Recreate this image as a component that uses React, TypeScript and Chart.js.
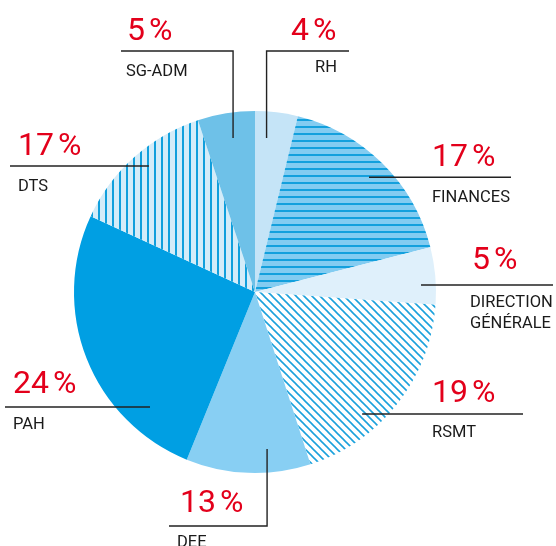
import React, { useEffect, useRef } from "react";
import { Chart, registerables } from "chart.js";

Chart.register(...registerables);

// ---- data (clockwise from 12 o'clock) ----
const CATEGORIES = ["RH", "FINANCES", "DIRECTION GÉNÉRALE", "RSMT", "DEE", "PAH", "DTS", "SG-ADM"];
// slice shares as drawn in the picture (percent)
const SHARES = [3.8, 17.2, 5.1, 18.9, 11.1, 25.7, 13.0, 5.1];
// percentage labels as printed
const PCT_VALUES = ["4", "17", "5", "19", "13", "24", "17", "5"];
const NAME_LINES = [["RH"], ["FINANCES"], ["DIRECTION", "GÉNÉRALE"], ["RSMT"], ["DEE"], ["PAH"], ["DTS"], ["SG-ADM"]];

// ---- styles ----
type Fill =
  | { kind: "solid"; color: string }
  | { kind: "h" | "v" | "d"; bg: string; fg: string; size: number; lw: number };

const FILLS: Fill[] = [
  { kind: "solid", color: "#c5e4f7" },
  { kind: "h", bg: "#83ccf1", fg: "#13a0dd", size: 7, lw: 2 },
  { kind: "solid", color: "#dff0fb" },
  { kind: "d", bg: "#ffffff", fg: "#1ba1dc", size: 8, lw: 1.6 },
  { kind: "solid", color: "#88cff3" },
  { kind: "solid", color: "#009fe3" },
  { kind: "v", bg: "#d3ecf9", fg: "#109fdc", size: 7, lw: 2 },
  { kind: "solid", color: "#6ec1e8" },
];

// ---- annotation layout ----
type Layout = {
  angle: number; rf: number;
  mode: "h" | "v";
  lineY?: number; lineEnd: number;
  pctX: number; pctY: number;
  nameX: number; nameY: number;
};
const LAYOUT: Layout[] = [
  { angle: 4.3, rf: 0.853, mode: "v", lineY: 51, lineEnd: 349, pctX: 291, pctY: 40, nameX: 315, nameY: 72 },
  { angle: 44.8, rf: 0.894, mode: "h", lineEnd: 511, pctX: 432, pctY: 166, nameX: 432, nameY: 202 },
  { angle: 87.6, rf: 0.918, mode: "h", lineEnd: 553, pctX: 472, pctY: 269, nameX: 470, nameY: 307 },
  { angle: 138.7, rf: 0.897, mode: "h", lineEnd: 523, pctX: 432, pctY: 402, nameX: 432, nameY: 437 },
  { angle: 175.6, rf: 0.87, mode: "v", lineY: 526, lineEnd: 169, pctX: 180, pctY: 512, nameX: 177, nameY: 547 },
  { angle: 222.4, rf: 0.86, mode: "h", lineEnd: 5, pctX: 13, pctY: 393, nameX: 13, nameY: 429 },
  { angle: 319.9, rf: 0.91, mode: "h", lineEnd: 10, pctX: 18, pctY: 155, nameX: 18, nameY: 191 },
  { angle: 351.9, rf: 0.86, mode: "v", lineY: 51, lineEnd: 121, pctX: 127, pctY: 40, nameX: 126, nameY: 76 },
];

const RED = "#e3001b";
const INK = "#1a1a1a";
const FONT = "Roboto, 'Liberation Sans', sans-serif";
const PCT_GAP = 4;

function makeFill(f: Fill): string | CanvasPattern {
  if (f.kind === "solid") return f.color;
  const c = document.createElement("canvas");
  c.width = f.size;
  c.height = f.size;
  const g = c.getContext("2d")!;
  g.fillStyle = f.bg;
  g.fillRect(0, 0, f.size, f.size);
  g.fillStyle = f.fg;
  g.strokeStyle = f.fg;
  if (f.kind === "h") g.fillRect(0, 0, f.size, f.lw);
  else if (f.kind === "v") g.fillRect(0, 0, f.lw, f.size);
  else {
    const s = f.size;
    g.lineWidth = f.lw;
    for (const k of [-s, 0, s]) {
      g.beginPath();
      g.moveTo(k - 1, -1);
      g.lineTo(k + s + 1, s + 1);
      g.stroke();
    }
  }
  return g.createPattern(c, "repeat")!;
}

const annotations = {
  id: "annotations",
  afterDraw(chart: any) {
    const ctx: CanvasRenderingContext2D = chart.ctx;
    const meta = chart.getDatasetMeta(0);
    ctx.save();
    meta.data.forEach((arc: any, i: number) => {
      const { x, y, outerRadius } = arc.getProps(["x", "y", "outerRadius"], true);
      const L = LAYOUT[i];
      const a = (L.angle * Math.PI) / 180;
      const ax = x + L.rf * outerRadius * Math.sin(a);
      const ay = y - L.rf * outerRadius * Math.cos(a);
      ctx.strokeStyle = "#222";
      ctx.lineWidth = 1.4;
      ctx.beginPath();
      if (L.mode === "h") {
        ctx.moveTo(ax, ay);
        ctx.lineTo(L.lineEnd, ay);
      } else {
        ctx.moveTo(ax, ay);
        ctx.lineTo(ax, L.lineY!);
        ctx.lineTo(L.lineEnd, L.lineY!);
      }
      ctx.stroke();

      ctx.textAlign = "left";
      ctx.textBaseline = "alphabetic";
      ctx.fillStyle = RED;
      ctx.font = `400 32px ${FONT}`;
      const num = PCT_VALUES[i];
      ctx.fillText(num, L.pctX, L.pctY);
      const w = ctx.measureText(num).width;
      ctx.fillText("%", L.pctX + w + PCT_GAP, L.pctY);
      ctx.fillStyle = INK;
      ctx.font = `400 16.5px ${FONT}`;
      NAME_LINES[i].forEach((t, j) => ctx.fillText(t, L.nameX, L.nameY + j * 20.5));
    });
    ctx.restore();
  },
};

export default function App() {
  const ref = useRef<HTMLCanvasElement>(null);
  useEffect(() => {
    const chart = new Chart(ref.current!, {
      type: "pie",
      data: {
        labels: CATEGORIES,
        datasets: [
          {
            data: SHARES,
            backgroundColor: FILLS.map(makeFill) as any,
            borderWidth: 0,
            offset: 0,
            hoverOffset: 0,
          },
        ],
      },
      options: {
        responsive: false,
        animation: false,
        events: [],
        layout: { padding: { left: 74, right: 120, top: 111, bottom: 73 } },
        plugins: { legend: { display: false }, tooltip: { enabled: false } },
      },
      plugins: [annotations],
    });
    return () => chart.destroy();
  }, []);
  return (
    <div style={{ position: "fixed", left: 0, top: 0, width: 556, height: 546, background: "#fff" }}>
      <canvas ref={ref} width={556} height={546} style={{ display: "block" }} />
    </div>
  );
}
